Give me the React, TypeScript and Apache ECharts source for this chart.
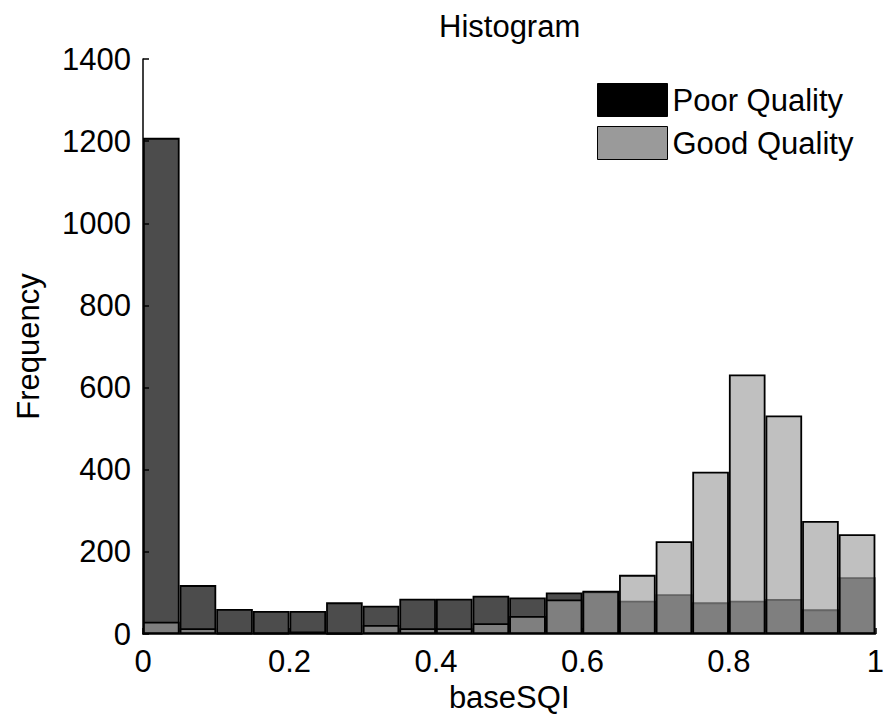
import React, { useEffect, useRef } from "react";
import * as echarts from "echarts";

const binLabels = ["0-0.05","0.05-0.1","0.1-0.15","0.15-0.2","0.2-0.25","0.25-0.3","0.3-0.35","0.35-0.4","0.4-0.45","0.45-0.5","0.5-0.55","0.55-0.6","0.6-0.65","0.65-0.7","0.7-0.75","0.75-0.8","0.8-0.85","0.85-0.9","0.9-0.95","0.95-1"];
const poorQuality = [1208, 119, 61, 56, 56, 77, 69, 86, 86, 93, 89, 101, 103, 81, 97, 77, 81, 85, 60, 138];
const goodQuality = [30, 14, 2, 2, 6, 1, 22, 14, 14, 26, 44, 84, 105, 144, 226, 395, 632, 532, 275, 243];
const seriesNames = ["Poor Quality", "Good Quality"];

const FONT = "Liberation Sans, Arial, sans-serif";

export default function App() {
  const ref = useRef<HTMLDivElement>(null);
  useEffect(() => {
    if (!ref.current) return;
    const chart = echarts.init(ref.current, null, { renderer: "svg" });
    chart.setOption({
      animation: false,
      backgroundColor: "#ffffff",
      textStyle: { fontFamily: FONT },
      title: {
        text: "Histogram",
        left: 434,
        top: 6,
        textStyle: { fontFamily: FONT, fontSize: 31, fontWeight: "normal", color: "#000" },
      },
      legend: {
        orient: "vertical",
        left: 592,
        top: 78,
        itemWidth: 70,
        itemHeight: 33,
        itemGap: 9,
        icon: "rect",
        textStyle: { fontFamily: FONT, fontSize: 31, color: "#000" },
        data: [
          { name: seriesNames[0], itemStyle: { color: "#000000", borderColor: "#000", borderWidth: 1 } },
          { name: seriesNames[1], itemStyle: { color: "#9a9a9a", borderColor: "#000", borderWidth: 1 } },
        ],
      },
      grid: { left: 143, right: 9, top: 59, bottom: 84, containLabel: false },
      xAxis: [
        {
          type: "category",
          data: binLabels,
          show: false,
          boundaryGap: true,
        },
        {
          type: "value",
          min: 0,
          max: 1,
          interval: 0.2,
          position: "bottom",
          name: "baseSQI",
          nameLocation: "middle",
          nameGap: 45,
          nameTextStyle: { fontFamily: FONT, fontSize: 31, color: "#000" },
          axisLine: { show: true, lineStyle: { color: "#000", width: 1.5 } },
          axisTick: { show: true, inside: true, length: 6, lineStyle: { color: "#000", width: 1.5 } },
          axisLabel: { fontFamily: FONT, fontSize: 31, color: "#000", margin: 12, formatter: (v: number) => String(v) },
          splitLine: { show: false },
        },
      ],
      yAxis: {
        type: "value",
        min: 0,
        max: 1400,
        interval: 200,
        name: "Frequency",
        nameLocation: "middle",
        nameGap: 99,
        nameTextStyle: { fontFamily: FONT, fontSize: 31, color: "#000" },
        axisLine: { show: true, lineStyle: { color: "#000", width: 1.5 } },
        axisTick: { show: true, inside: true, length: 6, lineStyle: { color: "#000", width: 1.5 } },
        axisLabel: { fontFamily: FONT, fontSize: 31, color: "#000", margin: 12, formatter: (v: number) => String(v) },
        splitLine: { show: false },
      },
      series: [
        {
          name: seriesNames[0],
          type: "bar",
          xAxisIndex: 0,
          data: poorQuality,
          barCategoryGap: "0%",
          barGap: "-100%",
          itemStyle: { color: "rgba(0,0,0,0.7)", borderColor: "#000", borderWidth: 1.8 },
        },
        {
          name: seriesNames[1],
          type: "bar",
          xAxisIndex: 0,
          data: goodQuality,
          barCategoryGap: "0%",
          barGap: "-100%",
          itemStyle: { color: "rgba(156,156,156,0.64)", borderColor: "#000", borderWidth: 1.8 },
        },
      ],
    });
    return () => chart.dispose();
  }, []);
  return (
    <div
      ref={ref}
      style={{ position: "fixed", left: 0, top: 0, width: 887, height: 718 }}
    />
  );
}
